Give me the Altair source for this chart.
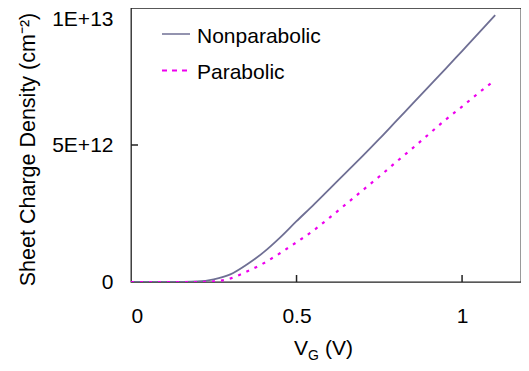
import altair as alt
import pandas as pd

# ---- data ----
vg = [0.0, 0.05, 0.10, 0.15, 0.20, 0.25, 0.30, 0.35, 0.40, 0.45, 0.50, 0.55,
      0.60, 0.65, 0.70, 0.75, 0.80, 0.85, 0.90, 0.95, 1.00, 1.05, 1.10]
nonparabolic = [0.0, 0.0, 0.0, 0.005e12, 0.02e12, 0.10e12, 0.28e12, 0.64e12,
                1.08e12, 1.62e12, 2.22e12, 2.80e12, 3.40e12, 4.00e12, 4.60e12,
                5.22e12, 5.86e12, 6.50e12, 7.14e12, 7.78e12, 8.43e12, 9.08e12,
                9.74e12]
parabolic = [0.0, 0.0, 0.0, 0.0, 0.0, 0.02e12, 0.13e12, 0.38e12, 0.68e12,
             1.05e12, 1.45e12, 1.87e12, 2.35e12, 2.85e12, 3.35e12, 3.85e12,
             4.37e12, 4.88e12, 5.40e12, 5.92e12, 6.40e12, 6.90e12, 7.37e12]
series_names = ["Nonparabolic", "Parabolic"]
x_tick_values = [0, 0.5, 1]
x_tick_labels = ["0", "0.5", "1"]
y_tick_values = [0, 5e12, 1e13]
y_tick_labels = ["0", "5E+12", "1E+13"]

FONT = "Liberation Sans"
C_NON = "#6f6f94"
C_PAR = "#ee00ee"
W, H = 390, 274
X_MAX = 1.178

df_non = pd.DataFrame({"vg": vg, "n": nonparabolic})
df_par = pd.DataFrame({"vg": vg, "n": parabolic})

def label_expr(values, labels):
    expr = "''"
    for v, l in zip(values, labels):
        tol = max(abs(v), 1) * 1e-6
        expr = f"(abs(datum.value - {v}) < {tol} ? '{l}' : {expr})"
    return expr

xscale = alt.Scale(domain=[0, X_MAX], nice=False, zero=False)
yscale = alt.Scale(domain=[0, 1e13], nice=False, zero=False)

x_axis = alt.Axis(values=x_tick_values, labelExpr=label_expr(x_tick_values, x_tick_labels),
                  title=None, ticks=False, domain=False, grid=False,
                  labelFontSize=21, labelFont=FONT, labelColor="black", labelPadding=23)
y_axis = alt.Axis(values=y_tick_values, labelExpr=label_expr(y_tick_values, y_tick_labels),
                  title="Sheet Charge Density (cm\u207b\u00b2)", titleFont=FONT,
                  titleFontSize=21.5, titleFontWeight="normal", titleColor="black",
                  titleX=-103, titleY=141, titleAngle=-90, titleAlign="center",
                  titleBaseline="middle",
                  ticks=False, domain=False, grid=False,
                  labelFontSize=21, labelFont=FONT, labelColor="black", labelPadding=18,
                  labelBaseline={"condition": {"test": "datum.value >= 9e12", "value": "top"},
                                 "value": "middle"})

X = alt.X("vg:Q", scale=xscale, axis=x_axis)
Y = alt.Y("n:Q", scale=yscale, axis=y_axis)

line_non = alt.Chart(df_non).mark_line(color=C_NON, strokeWidth=1.8, clip=True,
                                       interpolate="monotone").encode(x=X, y=Y)
line_par = alt.Chart(df_par).mark_line(color=C_PAR, strokeWidth=2.2, strokeDash=[3, 6],
                                       clip=True, interpolate="monotone").encode(x=X, y=Y)

xt = pd.DataFrame({"vg": x_tick_values[1:]})
yt = pd.DataFrame({"n": y_tick_values[1:-1]})
x_ticks = alt.Chart(xt).mark_rule(color="#222", strokeWidth=1.5).encode(
    x=X, y=alt.value(H), y2=alt.value(H - 7))
y_ticks = alt.Chart(yt).mark_rule(color="#222", strokeWidth=1.5).encode(
    y=Y, x=alt.value(0), x2=alt.value(7))

one = alt.Data(values=[{"k": 1}])
leg_line1 = alt.Chart(one).mark_rule(color=C_NON, strokeWidth=1.5).encode(
    x=alt.value(31), x2=alt.value(59), y=alt.value(26))
leg_line2 = alt.Chart(one).mark_rule(color=C_PAR, strokeWidth=2.2, strokeDash=[5, 5]).encode(
    x=alt.value(31), x2=alt.value(59), y=alt.value(62.5))
leg_txt1 = alt.Chart(one).mark_text(text=series_names[0], align="left", baseline="alphabetic",
                                    fontSize=21, font=FONT, color="black").encode(
    x=alt.value(66), y=alt.value(34.5))
leg_txt2 = alt.Chart(one).mark_text(text=series_names[1], align="left", baseline="alphabetic",
                                    fontSize=21, font=FONT, color="black").encode(
    x=alt.value(66), y=alt.value(71))

xt_v = alt.Chart(one).mark_text(text="V", align="left", baseline="alphabetic",
                                fontSize=21, font=FONT, color="black").encode(
    x=alt.value(163), y=alt.value(347))
xt_g = alt.Chart(one).mark_text(text="G", align="left", baseline="alphabetic",
                                fontSize=14, font=FONT, color="black").encode(
    x=alt.value(177), y=alt.value(352))
xt_u = alt.Chart(one).mark_text(text="(V)", align="left", baseline="alphabetic",
                                fontSize=21, font=FONT, color="black").encode(
    x=alt.value(194), y=alt.value(347))

chart = alt.layer(
    line_non, line_par, x_ticks, y_ticks,
    leg_line1, leg_line2, leg_txt1, leg_txt2, xt_v, xt_g, xt_u,
).properties(
    width=W, height=H,
    autosize=alt.AutoSizeParams(type="none"),
    padding={"left": 123, "top": 0, "right": 0, "bottom": 82},
    background="white",
).configure_view(stroke="#222", strokeWidth=1.3)

chart.save("out.html", embed_options={"renderer": "svg", "actions": False})
